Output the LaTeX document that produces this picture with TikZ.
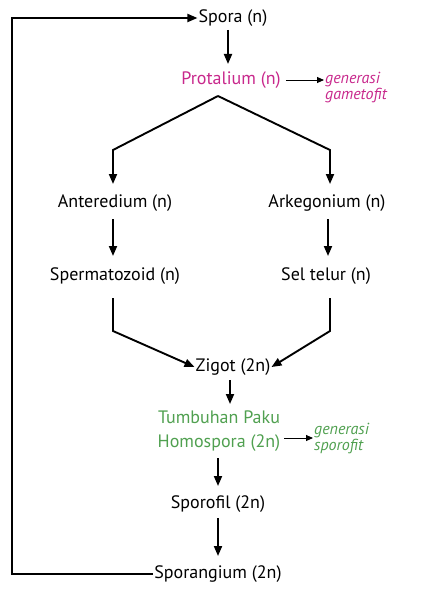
\documentclass[tikz,border=0pt]{standalone}
\usepackage{fontspec}
\setmainfont{PT Sans}
\usetikzlibrary{arrows.meta}
\definecolor{protcolor}{RGB}{200,40,140}
\definecolor{sporocolor}{RGB}{80,160,80}
\tikzset{
  stage/.style={inner sep=1pt, font=\fontsize{18}{24}\selectfont},
  gen/.style={inner sep=1pt, font=\fontsize{16}{16}\selectfont\itshape, align=left},
  flow/.style={line width=1.9pt, -{Triangle[length=10pt,width=8pt]}},
  thin flow/.style={line width=0.9pt, -{Triangle[length=7pt,width=6pt]}}
}
\begin{document}
\begin{tikzpicture}[x=1pt,y=-1pt]
  \useasboundingbox (0,0) rectangle (421,591);
  \node (spora) [stage] at (233, 18) {Spora (n)};
  \node (protalium) [stage, text=protcolor] at (231, 80) {Protalium (n)};
  \node (gametofit) [gen, text=protcolor, anchor=west] at (324, 88) {generasi\\gametofit};
  \node (anteredium) [stage] at (115, 203) {Anteredium (n)};
  \node (arkegonium) [stage] at (327, 203) {Arkegonium (n)};
  \node (spermatozoid) [stage] at (115, 276) {Spermatozoid (n)};
  \node (seltelur) [stage] at (326, 276) {Sel telur (n)};
  \node (zigot) [stage] at (233, 367) {Zigot (2n)};
  \node (paku) [stage, text=sporocolor, align=center] at (219, 431) {Tumbuhan Paku\\Homospora (2n)};
  \node (sporofit) [gen, text=sporocolor, anchor=west] at (313, 438) {generasi\\sporofit};
  \node (sporofil) [stage] at (218, 504) {Sporofil (2n)};
  \node (sporangium) [stage] at (218, 574) {Sporangium (2n)};
  \coordinate (apex) at (218, 96);

  \draw [flow] (228, 30) -- (228, 64);
  \draw [thin flow] (protalium.east) ++(4,0) -- (gametofit.west |- protalium.east);
  \draw [flow] (apex) -- (113, 150) -- (113, 184);
  \draw [flow] (apex) -- (330, 150) -- (330, 184);
  \draw [flow] (113, 219) -- (113, 256);
  \draw [flow] (328, 219) -- (328, 256);
  \draw [flow] (113, 298) -- (113, 331) -- (zigot.west);
  \draw [flow] (330, 298) -- (330, 331) -- (zigot.east);
  \draw [flow] (230, 380) -- (230, 404);
  \draw [thin flow] (paku.east |- sporofit.west) ++(3,0) -- (sporofit.west);
  \draw [flow] (218, 458) -- (218, 486);
  \draw [flow] (218, 518) -- (218, 556);
  \draw [flow] (sporangium.west) -| (12, 18) -- (spora.west);
\end{tikzpicture}
\end{document}
